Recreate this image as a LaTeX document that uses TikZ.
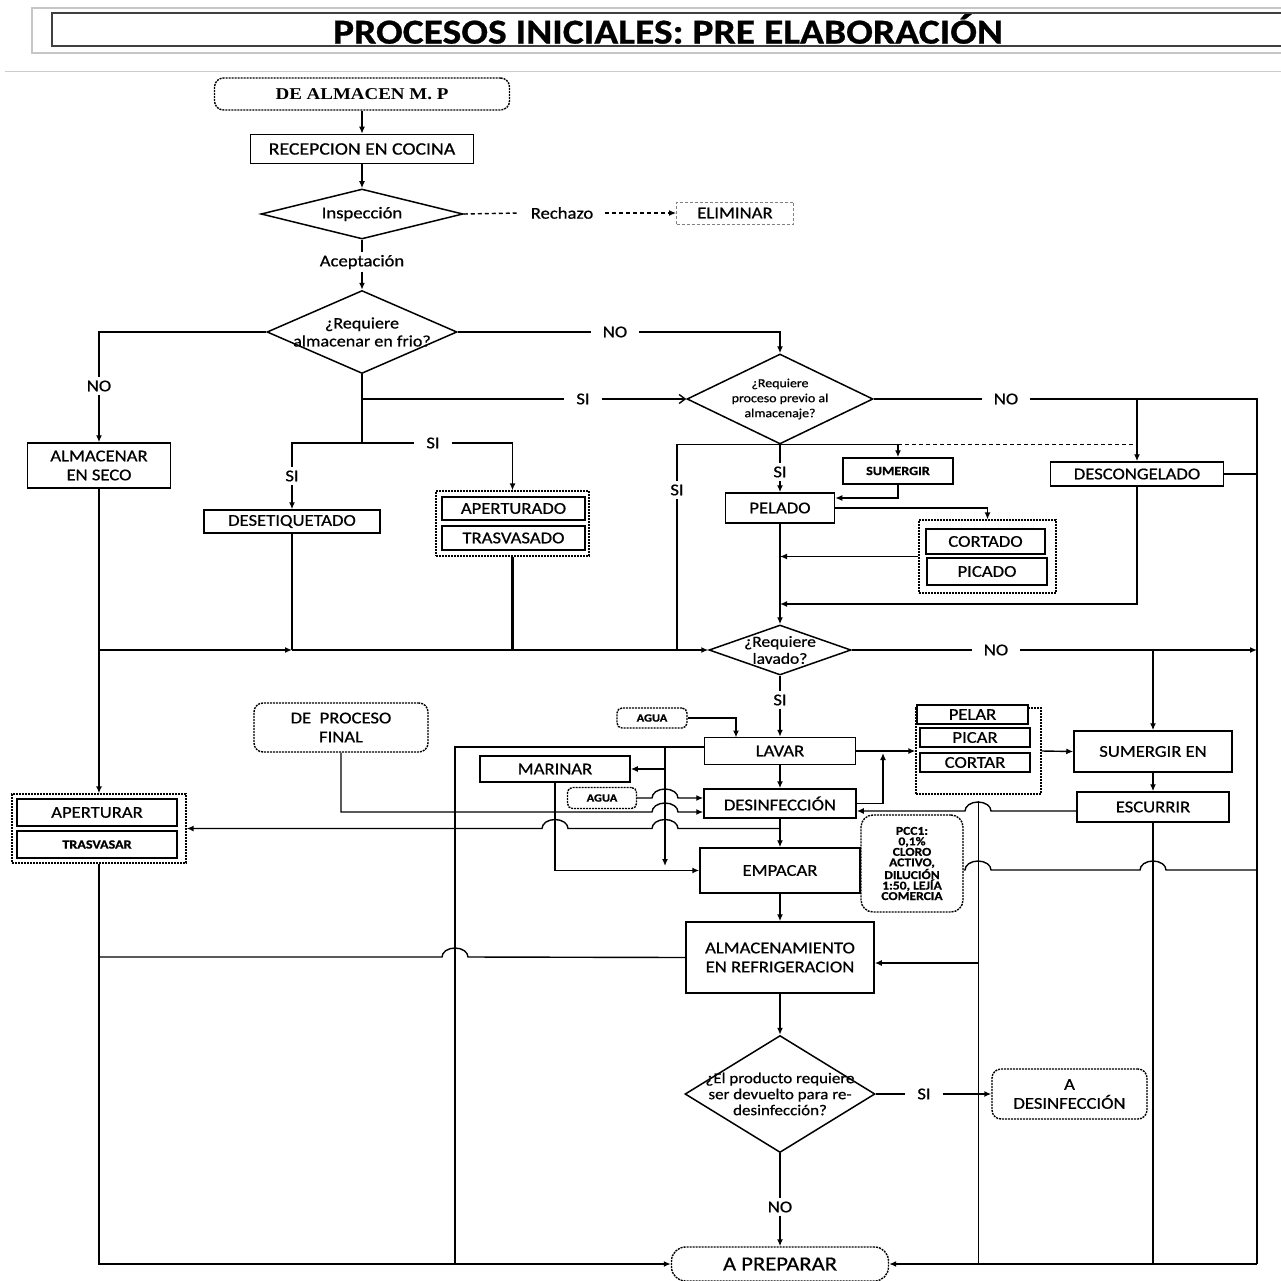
\documentclass[tikz,border=0pt]{standalone}
\usepackage{fontspec}
\setmainfont{Carlito}[FakeStretch=1.13,FakeBold=0.7]
\newfontfamily\timesb{Liberation Serif}[FakeStretch=1.15]
\usetikzlibrary{arrows.meta,shapes.geometric,calc}
\newcommand\fsz[2]{\fontsize{#1}{#2}\selectfont}
\tikzset{
 ln/.style={line width=1.4pt},
 thk/.style={line width=2.1pt},
 arr/.style={ln,-{Latex[length=7pt,width=6pt]}},
 arl/.style={ln,{Latex[length=7pt,width=6pt]}-},
 box/.style={draw,line width=1.5pt,fill=white,inner sep=0pt,align=center,font=\fsz{16.5}{19}},
 dbox/.style={box,line width=2.1pt},
 term/.style={draw,line width=1.4pt,dash pattern=on 2pt off 1pt,rounded corners=9pt,fill=white,inner sep=0pt,align=center,font=\fsz{16.5}{19}},
 grp/.style={draw,line width=1.3pt,dash pattern=on 2pt off 1pt,inner sep=0pt},
 dia/.style={diamond,draw,line width=1.5pt,fill=white,inner sep=0pt},
 dtxt/.style={inner sep=0pt,align=center},
 lab/.style={fill=white,inner xsep=12pt,inner ysep=3pt,font=\fsz{16.5}{19}},
}
\begin{document}
\begin{tikzpicture}[x=1pt,y=-1pt]
\useasboundingbox (0,0) rectangle (1281,1281);
% title
\draw[gray!45,line width=1.5pt] (32,8) rectangle (1295,53);
\draw[black!75,line width=1.4pt] (52,13) rectangle (1295,46);
\node[inner sep=0pt,font=\fsz{35}{38}\bfseries] (title) at (668,29) {PROCESOS INICIALES: PRE ELABORACIÓN};
\draw[gray!40,line width=1pt] (5,72) -- (1281,72);

% nodes
\node[term,minimum width=295pt,minimum height=32pt,font=\timesb\bfseries\fsz{16.5}{19}] (almacen) at (362,94) {DE ALMACEN M. P};
\node[box,minimum width=223pt,minimum height=29pt,font=\fsz{17.5}{19}] (recep) at (362,149) {RECEPCION EN COCINA};
\node[dia,minimum width=202pt,minimum height=50pt] (insp) at (362,214) {};
\node[dtxt,font=\fsz{16.5}{19}] at (insp) {Inspección};
\node[draw=gray,line width=0.9pt,dash pattern=on 3pt off 2pt,minimum width=117pt,minimum height=22pt,inner sep=0pt,font=\fsz{16.5}{19}] (elim) at (735,213) {ELIMINAR};
\node[lab] (rech) at (562,213) {Rechazo};
\node[lab] (acep) at (362,262) {Aceptación};

\node[dia,minimum width=190pt,minimum height=83pt] (q1) at (362,332) {};
\node[dtxt,font=\fsz{16}{18}] at (q1) {¿Requiere\\almacenar en frio?};
\node[box,minimum width=143pt,minimum height=45pt] (seco) at (99,465.5) {ALMACENAR\\EN SECO};
\node[box,minimum width=176pt,minimum height=23pt] (deset) at (292,521.5) {DESETIQUETADO};
\node[grp,minimum width=153pt,minimum height=65pt] (apg) at (512.5,523.5) {};
\node[dbox,minimum width=143pt,minimum height=23pt] (apert) at (513.5,508.5) {APERTURADO};
\node[dbox,minimum width=143pt,minimum height=24pt] (trasv) at (513.5,538) {TRASVASADO};

\node[dia,minimum width=186pt,minimum height=90pt] (q2) at (780,399) {};
\node[dtxt,font=\fsz{12.3}{15}] at (q2) {¿Requiere\\proceso previo al\\almacenaje?};
\node[box,minimum width=110pt,minimum height=26pt,font=\bfseries\fsz{12.5}{14}] (sumerg) at (898,471) {SUMERGIR};
\node[box,minimum width=173pt,minimum height=24pt] (descong) at (1137,474) {DESCONGELADO};
\node[box,minimum width=109pt,minimum height=30pt] (pelado) at (780,508) {PELADO};
\node[grp,minimum width=137pt,minimum height=73pt] (cpg) at (987.5,556.5) {};
\node[dbox,minimum width=119pt,minimum height=25pt] (cortado) at (985.5,541.5) {CORTADO};
\node[dbox,minimum width=120pt,minimum height=27pt] (picado) at (987,571.5) {PICADO};

\node[dia,minimum width=142pt,minimum height=50pt] (q3) at (780,650) {};
\node[dtxt,font=\fsz{15.5}{17}] at (q3) {¿Requiere\\lavado?};

\node[term,minimum width=70pt,minimum height=20pt,rounded corners=5pt,font=\bfseries\fsz{11}{12}] (agua1) at (652,718) {AGUA};
\node[box,minimum width=151pt,minimum height=27pt] (lavar) at (780,751) {LAVAR};
\node[term,minimum width=174pt,minimum height=49pt] (proc) at (341,727.5) {DE\ \ PROCESO\\FINAL};
\node[box,minimum width=150pt,minimum height=26pt] (marinar) at (555,769) {MARINAR};
\node[term,minimum width=69pt,minimum height=21pt,rounded corners=5pt,font=\bfseries\fsz{11}{12}] (agua2) at (602,798) {AGUA};
\node[box,minimum width=152pt,minimum height=29pt] (desinf) at (780,803.5) {DESINFECCIÓN};
\node[grp,minimum width=125pt,minimum height=86pt] (ppg) at (978.5,751) {};
\node[box,minimum width=111pt,minimum height=19pt] (pelar) at (972.5,714.5) {PELAR};
\node[box,minimum width=110pt,minimum height=19pt] (picar) at (975,737.5) {PICAR};
\node[box,minimum width=110pt,minimum height=19pt] (cortar) at (975,762.5) {CORTAR};
\node[box,minimum width=158pt,minimum height=41pt] (sumen) at (1153,751.5) {SUMERGIR EN};
\node[box,minimum width=152pt,minimum height=30pt] (escur) at (1153,807) {ESCURRIR};
\node[grp,minimum width=174pt,minimum height=69pt] (apl) at (99,828.5) {};
\node[dbox,minimum width=160pt,minimum height=27pt] (apertu) at (97,812.5) {APERTURAR};
\node[dbox,minimum width=160pt,minimum height=27pt,font=\bfseries\fsz{12.5}{14}] (trasva) at (97,844.5) {TRASVASAR};
\node[box,minimum width=160pt,minimum height=45pt] (empacar) at (780,870.5) {EMPACAR};
\node[box,minimum width=188pt,minimum height=71pt] (alm) at (780,957.5) {ALMACENAMIENTO\\EN REFRIGERACION};
\node[dia,minimum width=190pt,minimum height=117pt] (q4) at (780,1094) {};
\node[dtxt,font=\fsz{15}{16}] at (q4) {¿El producto requiere\\ser devuelto para re-\\desinfección?};
\node[term,minimum width=155pt,minimum height=50pt] (adesinf) at (1069.5,1094) {A\\DESINFECCIÓN};
\node[term,minimum width=217pt,minimum height=34pt,rounded corners=14pt,font=\fsz{20}{22}] (apre) at (780,1264) {A PREPARAR};

% labels
\node[lab,inner xsep=3pt] (noL) at (99,386) {NO};
\node[lab] (noR) at (615,332) {NO};
\node[lab] (si1) at (583,399) {SI};
\node[lab] (si2) at (433,443) {SI};
\node[lab,inner xsep=3pt] (si3) at (292,476) {SI};
\node[lab,inner xsep=3pt] (si4) at (780,472) {SI};
\node[lab,inner xsep=3pt] (si5) at (677,490) {SI};
\node[lab] (no3) at (1006,399) {NO};
\node[lab] (no4) at (996,650) {NO};
\node[lab,inner xsep=3pt] (si6) at (780,700) {SI};
\node[lab] (si7) at (924,1094) {SI};
\node[lab,inner xsep=3pt] (no5) at (780,1207) {NO};

% connectors top
\draw[arr] (almacen.south) -- (recep.north);
\draw[arr] (recep.south) -- (insp.north);
\draw[ln,dash pattern=on 4pt off 3pt] (insp.east) -- (rech.west);
\draw[ln,dash pattern=on 4pt off 3pt,-{Latex[length=7pt,width=6pt]}] (rech.east) -- (elim.west);
\draw[ln] (insp.south) -- (acep.north);
\draw[arr] (acep.south) -- (q1.north);
\draw[ln] (q1.west) -| (noL.north);
\draw[arr] (noL.south) -- (seco.north);
\draw[ln] (q1.east) -- (noR.west);
\draw[arr] (noR.east) -| (q2.north);
\coordinate (j1) at (q1.south |- 0,443);
\draw[thk] (q1.south) -- (j1);
\draw[ln] (q1.south |- 0,399) -- (si1.west);
\draw[ln,-{Straight Barb[length=6pt,width=9pt]}] (si1.east) -- (q2.west);
\draw[ln] (j1) -- (si2.west);
\draw[arr] (si2.east) -| (apg.north);
\draw[ln] (j1) -| (si3.north);
\draw[arr] (si3.south) -- (deset.north);

% middle band
\coordinate (h1) at (seco.south |- 0,650);
\draw[arr] (seco.south) -- (seco.south |- apl.north);
\draw[arr] (h1) -- (deset.south |- h1);
\draw[arr] (deset.south |- h1) -- (q3.west);
\draw[thk] (deset.south) -- (deset.south |- h1);
\draw[thk] (apg.south) -- (apg.south |- h1);
\draw[ln] (q2.south) -- (si4.north);
\draw[arr] (si4.south) -- (pelado.north);
\draw[ln] (q2.south) -- (si5.north |- q2.south) -- (si5.north);
\draw[ln] (si5.south) -- (si5.south |- h1);
\draw[arr] (q2.south) -| (sumerg.north);
\draw[ln,dash pattern=on 4pt off 3pt] (sumerg.north |- q2.south) -- (descong.north |- q2.south);
\draw[ln] (q2.east) -- (no3.west);
\coordinate (r1) at (1257,399);
\coordinate (r2) at (1257,1264);
\draw[ln] (no3.east) -- (r1) -- (r2);
\draw[arr] (descong.north |- r1) -- (descong.north);
\draw[ln] (descong.east) -- (descong.east -| r1);
\draw[arr] (descong.south) |- (pelado.south |- 0,604);
\draw[arr] (sumerg.south) |- (pelado.east |- 0,498);
\draw[arr] (pelado.east) -| (cpg.north);
\draw[arr] (cpg.west) -- (pelado.south |- cpg.west);
\draw[arr] (pelado.south) -- (q3.north);
\draw[ln] (q3.east) -- (no4.west);
\draw[arr] (no4.east) -- (no4.east -| r1);
\draw[arr] (sumen.north |- q3.east) -- (sumen.north);
\draw[ln] (q3.south) -- (si6.north);
\draw[arr] (si6.south) -- (lavar.north);

% washing block
\draw[arr] (agua1.east) -| (736,737.5);
\draw[arr] (lavar.east) -- (ppg.west);
\draw[arr] (desinf.east) -| (883,753);
\draw[arr] (ppg.east) -- (sumen.west);
\draw[arr] (sumen.south) -- (escur.north);
\draw[arl] (desinf.east |- 0,811) -- (965,811) arc[start angle=180,end angle=360,x radius=13,y radius=9] -- (escur.west |- 0,811);
\draw[arr] (lavar.south) -- (desinf.north);
\draw[arr] (desinf.south) -- (empacar.north);
\draw[ln] (lavar.west |- 0,747) -| (455,1264);
\draw[arr] (665,747) -- (665,866);
\draw[arr] (665,769) -- (marinar.east);
\draw[arr] (marinar.south) |- (empacar.west);
\draw[arr] (agua2.east) -- (652,798) arc[start angle=180,end angle=360,x radius=13,y radius=9] -- (desinf.west |- 0,798);
\draw[arr] (proc.south) -- (proc.south |- 0,812) -- (652,812) arc[start angle=180,end angle=360,x radius=13,y radius=9] -- (desinf.west |- 0,812);
\draw[arl] (apl.east) -- (542,828.5) arc[start angle=180,end angle=360,x radius=13,y radius=9] -- (652,828.5) arc[start angle=180,end angle=360,x radius=13,y radius=9] -- (desinf.south |- 0,828.5);

% PCC note
\node[term,minimum width=102pt,minimum height=97pt,rounded corners=12pt,font=\bfseries\fsz{12}{10.5}] (pcc) at (912,863.5) {PCC1:\\0,1\%\\CLORO\\ACTIVO,\\DILUCIÓN\\1:50, LEJÍA\\COMERCIA};

% lower part
\draw[arr] (apl.south) |- (apre.west);
\draw[ln] (apl.south |- 0,957) -- (442,957) arc[start angle=180,end angle=360,x radius=13,y radius=9] -- (alm.west);
\draw[arr] (empacar.south) -- (alm.north);
\draw[ln] (ppg.south |- 0,801) -- (ppg.south |- r2);
\draw[arl] (alm.east |- 0,963) -- (ppg.south |- 0,963);
\draw[ln] (pcc.east |- 0,870) -- (965,870) arc[start angle=180,end angle=360,x radius=13,y radius=9] -- (1140,870) arc[start angle=180,end angle=360,x radius=13,y radius=9] -- (r1 |- 0,870);
\draw[ln] (escur.south) -- (escur.south |- r2);
\draw[arl] (apre.east) -- (r2);
\draw[arr] (alm.south) -- (q4.north);
\draw[ln] (q4.east) -- (si7.west);
\draw[arr] (si7.east) -- (adesinf.west);
\draw[ln] (q4.south) -- (no5.north);
\draw[arr] (no5.south) -- (apre.north);
\end{tikzpicture}
\end{document}
